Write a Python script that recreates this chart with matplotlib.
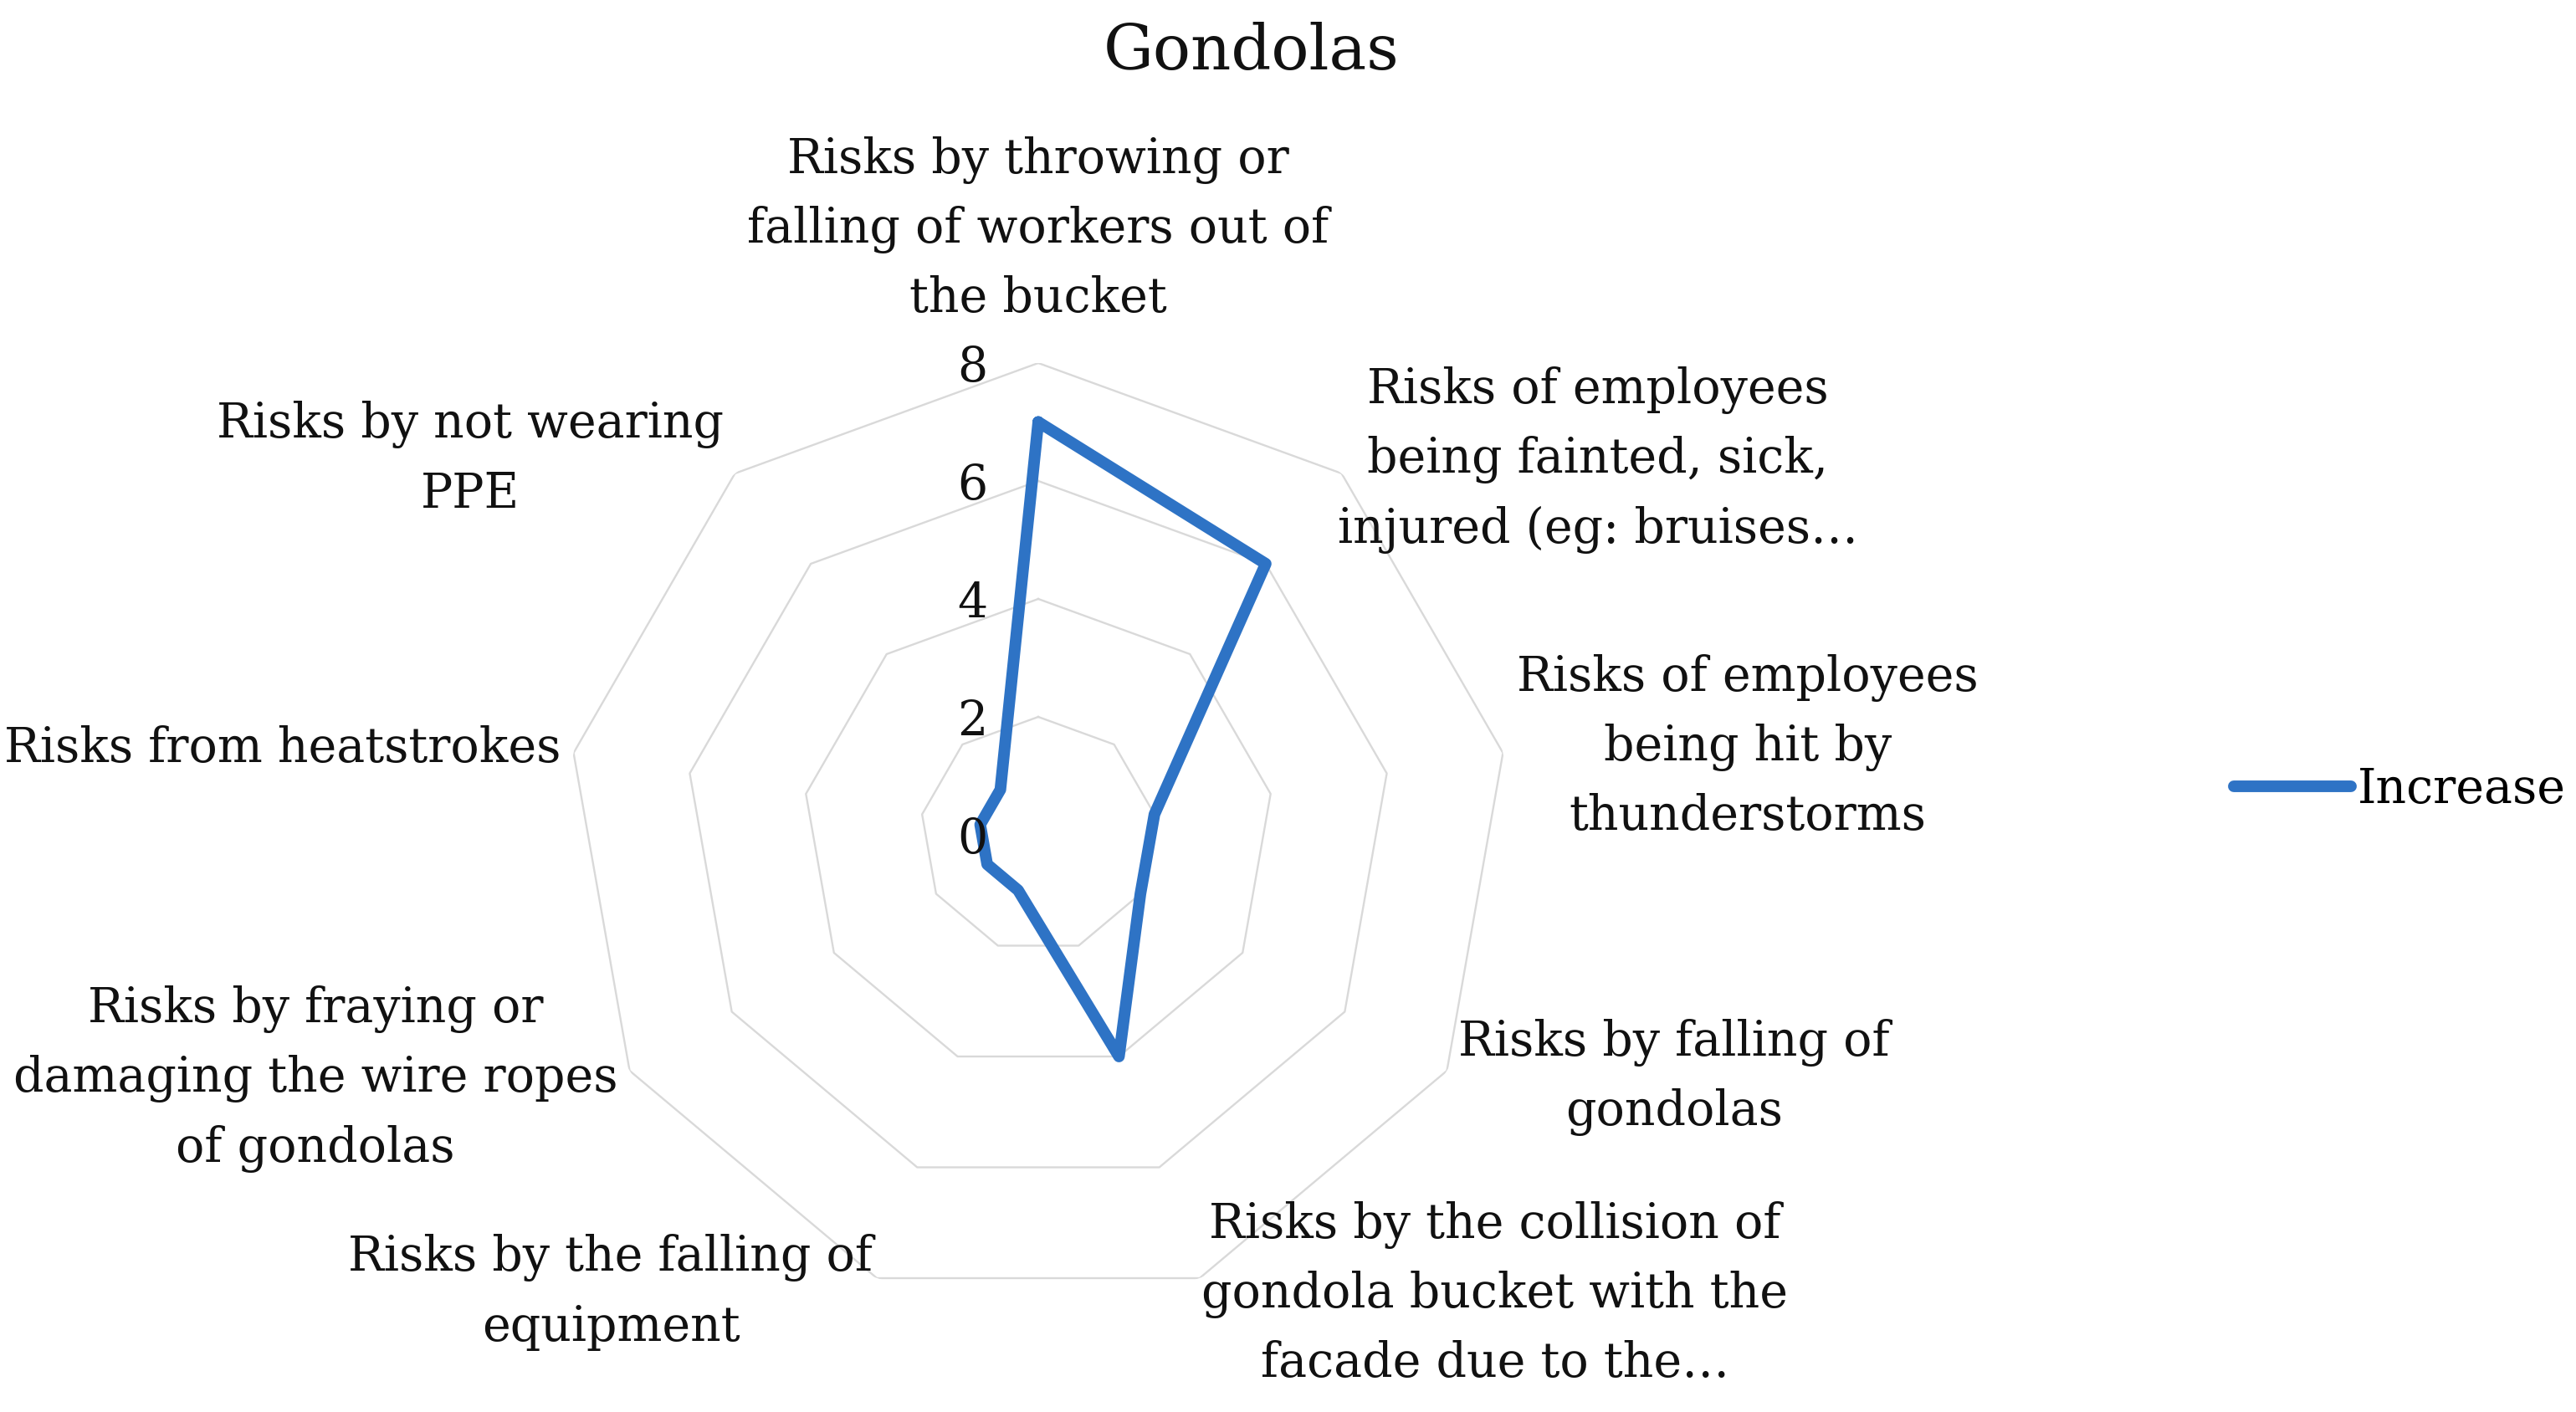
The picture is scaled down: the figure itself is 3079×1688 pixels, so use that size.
import numpy as np
import matplotlib
matplotlib.use("Agg")
import matplotlib.pyplot as plt

# chart data
categories = [
    "Risks by throwing or\nfalling of workers out of\nthe bucket",
    "Risks of employees\nbeing fainted, sick,\ninjured (eg: bruises\u2026",
    "Risks of employees\nbeing hit by\nthunderstorms",
    "Risks by falling of\ngondolas",
    "Risks by the collision of\ngondola bucket with the\nfacade due to the\u2026",
    "Risks by the falling of\nequipment",
    "Risks by fraying or\ndamaging the wire ropes\nof gondolas",
    "Risks from heatstrokes",
    "Risks by not wearing\nPPE",
]
increase = [7, 6, 2, 2, 4, 1, 1, 1, 1]
r_ticks = [0, 2, 4, 6, 8]
series_name = "Increase"
title = "Gondolas"

# layout (pixel centres of the category label blocks)
label_pos = [(1241, 274), (1910, 550), (2089, 893), (2001, 1288), (1787, 1547),
             (730, 1545), (377, 1290), (338, 895), (562, 549)]

W, H, DPI = 3079, 1688, 100
BLUE = "#2E73C5"
GRID = "#d9d9d9"
FS = 41


def plot_radar():
    plt.rcParams['font.family'] = 'DejaVu Serif'
    fig = plt.figure(figsize=(W / DPI, H / DPI), dpi=DPI)

    cx, cy, R = 1241, 998, 564
    ax = fig.add_axes([(cx - R) / W, (H - cy - R) / H, 2 * R / W, 2 * R / H],
                      projection='polar')
    n = len(categories)
    angles = np.pi / 2 - 2 * np.pi * np.arange(n) / n
    closed = np.append(angles, angles[0])

    # polygon grid rings
    for lvl in r_ticks[1:]:
        ax.plot(closed, [lvl] * (n + 1), color=GRID, lw=1.7, zorder=1)

    vals = increase + [increase[0]]
    ax.plot(closed, vals, color=BLUE, lw=10, solid_joinstyle='round',
            solid_capstyle='round', label=series_name, zorder=3)
    ax.set_ylim(0, r_ticks[-1])
    ax.axis('off')

    # radial tick labels along the top axis
    for v in r_ticks:
        ax.annotate(str(v), xy=(np.pi / 2, v), xytext=(-79, -6),
                    textcoords='offset pixels', ha='center', va='center',
                    fontsize=FS, color='#111111')

    for text, (x, y) in zip(categories, label_pos):
        fig.text(x / W, 1 - y / H, text, ha='center', va='center',
                 multialignment='center', fontsize=FS, linespacing=1.6,
                 color='#111111')

    fig.text(1496 / W, 1 - 62 / H, title, ha='center', va='center',
             fontsize=54, color='#111111')

    ax.legend(loc='center left', bbox_to_anchor=(2670 / W, 1 - 944 / H),
              bbox_transform=fig.transFigure, frameon=False, fontsize=FS,
              handlelength=2.45, handletextpad=0.15, borderpad=0,
              borderaxespad=0)

    fig.savefig("out.png", dpi=DPI, facecolor='white')


if __name__ == "__main__":
    plot_radar()
